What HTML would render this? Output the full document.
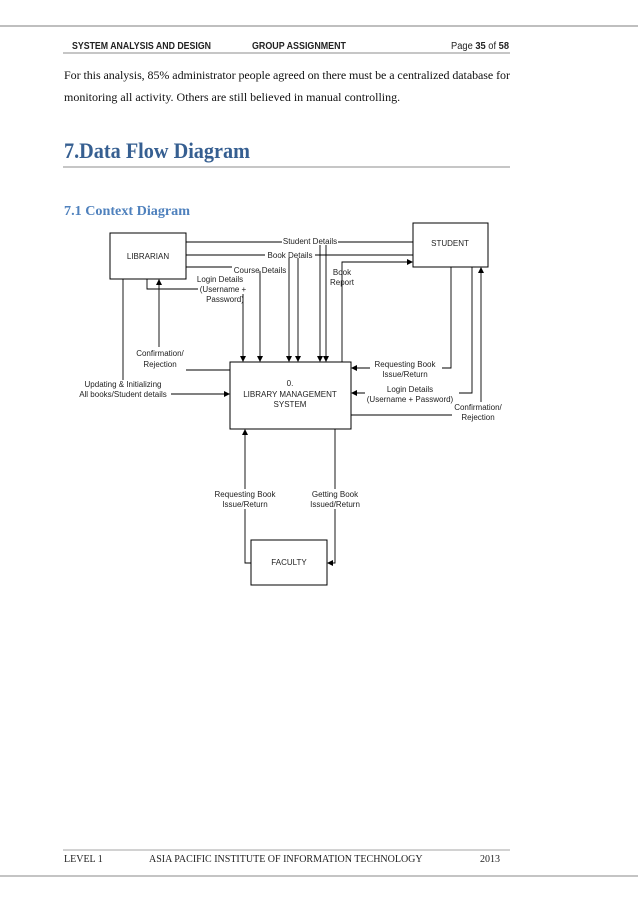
<!DOCTYPE html>
<html><head><meta charset="utf-8"><style>
html,body{margin:0;padding:0;background:#fff;}
svg{display:block;}
.s{font-family:"Liberation Sans",Arial,sans-serif;font-size:8px;fill:#222;}
</style></head><body>
<svg width="638" height="903" viewBox="0 0 638 903" xmlns="http://www.w3.org/2000/svg">
<defs><marker id="a" markerWidth="6" markerHeight="6" refX="5" refY="3" orient="auto" markerUnits="userSpaceOnUse"><path d="M0,0 L6,3 L0,6 z" fill="#000"/></marker></defs>
<rect x="0" y="0" width="638" height="903" fill="#fff"/>
<line x1="0" y1="26" x2="638" y2="26" stroke="#aaa" stroke-width="1.5"/>
<line x1="0" y1="876" x2="638" y2="876" stroke="#888" stroke-width="1"/>
<!-- header -->
<g font-family="Liberation Sans,Arial,sans-serif" font-size="10" font-weight="bold" fill="#222">
<text x="72" y="49" textLength="139" lengthAdjust="spacingAndGlyphs">SYSTEM ANALYSIS AND DESIGN</text>
<text x="252" y="49" textLength="94" lengthAdjust="spacingAndGlyphs">GROUP ASSIGNMENT</text>
</g>
<text x="451" y="49" font-family="Liberation Sans,Arial,sans-serif" font-size="10" fill="#222" textLength="58" lengthAdjust="spacingAndGlyphs">Page <tspan font-weight="bold">35</tspan> of <tspan font-weight="bold">58</tspan></text>
<line x1="63" y1="53" x2="510" y2="53" stroke="#666" stroke-width="0.8"/>
<g font-family="Liberation Serif,serif" font-size="12" fill="#111">
<text x="64" y="79" textLength="446" lengthAdjust="spacing">For this analysis, 85% administrator people agreed on there must be a centralized database for</text>
<text x="64" y="101">monitoring all activity. Others are still believed in manual controlling.</text>
</g>
<text x="64" y="158" font-family="Liberation Serif,serif" font-size="22" font-weight="bold" fill="#365f91" textLength="186" lengthAdjust="spacingAndGlyphs">7.Data Flow Diagram</text>
<line x1="63" y1="167" x2="510" y2="167" stroke="#666" stroke-width="0.8"/>
<text x="64" y="215" font-family="Liberation Serif,serif" font-size="14" font-weight="bold" fill="#4f81bd" textLength="126" lengthAdjust="spacingAndGlyphs">7.1 Context Diagram</text>
<!-- boxes -->
<g fill="#fff" stroke="#000" stroke-width="1">
<rect x="110" y="233" width="76" height="46"/>
<rect x="413" y="223" width="75" height="44"/>
<rect x="230" y="362" width="121" height="67"/>
<rect x="251" y="540" width="76" height="45"/>
</g>
<g class="s" text-anchor="middle">
<text x="148" y="259">LIBRARIAN</text>
<text x="450" y="246">STUDENT</text>
<text x="290" y="386">0.</text>
<text x="290" y="397">LIBRARY MANAGEMENT</text>
<text x="290" y="407">SYSTEM</text>
<text x="289" y="565">FACULTY</text>
</g>
<!-- connectors -->
<g fill="none" stroke="#000" stroke-width="0.9">
<path d="M186,242 H413"/>
<path d="M320,242 V361" marker-end="url(#a)"/>
<path d="M326,242 V361" marker-end="url(#a)"/>
<path d="M186,255 H413"/>
<path d="M289,255 V361" marker-end="url(#a)"/>
<path d="M298,255 V361" marker-end="url(#a)"/>
<path d="M186,267 H260 V361" marker-end="url(#a)"/>
<path d="M147,279 V289 H243 V361" marker-end="url(#a)"/>
<path d="M230,370 H159 V280" marker-end="url(#a)"/>
<path d="M123,279 V394 H229" marker-end="url(#a)"/>
<path d="M342,362 V262 H412" marker-end="url(#a)"/>
<path d="M451,267 V368 H352" marker-end="url(#a)"/>
<path d="M472,267 V393 H352" marker-end="url(#a)"/>
<path d="M351,415 H481 V268" marker-end="url(#a)"/>
<path d="M251,563 H245 V430" marker-end="url(#a)"/>
<path d="M335,429 V563 H328" marker-end="url(#a)"/>
</g>
<!-- labels -->
<g class="s" text-anchor="middle">
<rect x="282" y="236" width="56" height="9" fill="#fff"/>
<text x="310" y="244">Student Details</text>
<rect x="265" y="249" width="50" height="9" fill="#fff"/>
<text x="290" y="258">Book Details</text>
<rect x="232" y="262" width="56" height="9" fill="#fff"/>
<text x="260" y="273">Course Details</text>
<rect x="198" y="284" width="50" height="10" fill="#fff"/>
<text x="220" y="282">Login Details</text>
<text x="223" y="292">(Username +</text>
<text x="225" y="302">Password)</text>
<text x="342" y="275">Book</text>
<text x="342" y="285">Report</text>
<rect x="130" y="347" width="56" height="24" fill="#fff"/>
<text x="160" y="356">Confirmation/</text>
<text x="160" y="367">Rejection</text>
<rect x="76" y="380" width="95" height="20" fill="#fff"/>
<text x="123" y="387">Updating &amp; Initializing</text>
<text x="123" y="397">All books/Student details</text>
<rect x="370" y="359" width="72" height="20" fill="#fff"/>
<text x="405" y="367">Requesting Book</text>
<text x="405" y="377">Issue/Return</text>
<rect x="365" y="385" width="94" height="20" fill="#fff"/>
<text x="410" y="392">Login Details</text>
<text x="410" y="402">(Username + Password)</text>
<rect x="452" y="402" width="50" height="20" fill="#fff"/>
<text x="478" y="410">Confirmation/</text>
<text x="478" y="420">Rejection</text>
<rect x="208" y="489" width="70" height="20" fill="#fff"/>
<text x="245" y="497">Requesting Book</text>
<text x="245" y="507">Issue/Return</text>
<rect x="308" y="489" width="56" height="20" fill="#fff"/>
<text x="335" y="497">Getting Book</text>
<text x="335" y="507">Issued/Return</text>
</g>
<!-- footer -->
<line x1="63" y1="850" x2="510" y2="850" stroke="#888" stroke-width="0.8"/>
<g font-family="Liberation Serif,serif" font-size="10" fill="#222">
<text x="64" y="862">LEVEL 1</text>
<text x="149" y="862">ASIA PACIFIC INSTITUTE OF INFORMATION TECHNOLOGY</text>
<text x="480" y="862">2013</text>
</g>
</svg>
</body></html>
